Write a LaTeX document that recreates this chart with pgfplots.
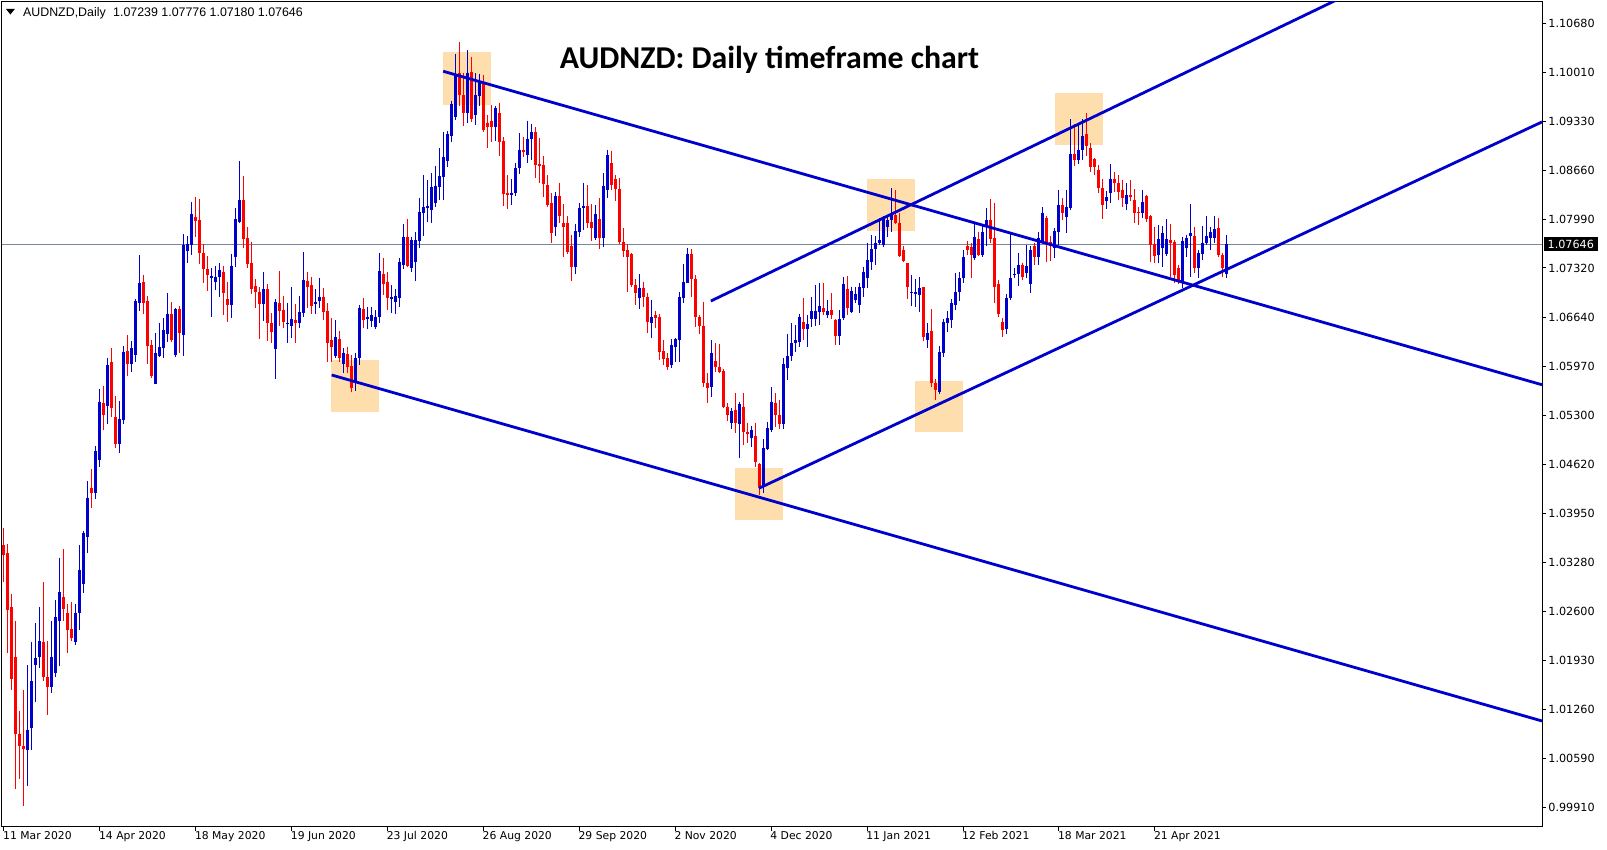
\documentclass[border=0pt]{standalone}
\usepackage{pgfplots}
\pgfplotsset{compat=1.18}
\usepackage{pgfplotstable}
\usepackage{fontspec}
\newfontfamily\dejavu{DejaVu Sans}
\newfontfamily\libsans{Liberation Sans}
\newfontfamily\carlito{Carlito}
\definecolor{upc}{RGB}{0,0,204}
\definecolor{dnc}{RGB}{255,0,0}
\definecolor{linec}{RGB}{0,0,204}
\definecolor{boxc}{RGB}{255,222,173}
\definecolor{pricec}{RGB}{119,136,153}

\pgfplotstableread{
i o h l c
6 1.00696 1.01864 1.00202 1.00980
7 1.01005 1.02188 1.00696 1.01644
8 1.01864 1.02438 1.01355 1.01968
9 1.01978 1.02667 1.01829 1.02198
12 1.01564 1.02477 1.01479 1.01978
13 1.01754 1.02767 1.01704 1.02527
14 1.02477 1.03341 1.01854 1.02867
18 1.02178 1.02712 1.02138 1.02587
19 1.02587 1.03510 1.02352 1.03176
20 1.02986 1.03710 1.02852 1.03685
21 1.03625 1.04388 1.03410 1.04164
23 1.04234 1.04872 1.04149 1.04812
24 1.04683 1.05661 1.04588 1.05481
26 1.05431 1.06085 1.05172 1.05990
29 1.04898 1.05496 1.04773 1.05247
30 1.05227 1.06255 1.05172 1.06165
32 1.05995 1.06320 1.05895 1.06220
33 1.06130 1.06893 1.06035 1.06868
34 1.06843 1.07497 1.06729 1.07108
38 1.05731 1.06429 1.05721 1.06155
39 1.06110 1.06569 1.06095 1.06230
40 1.06220 1.06639 1.06085 1.06469
41 1.06419 1.06978 1.06309 1.06689
43 1.06125 1.06766 1.06100 1.06752
45 1.06400 1.07786 1.06111 1.07635
46 1.07553 1.07759 1.07393 1.07649
47 1.07635 1.08230 1.07498 1.08061
52 1.07187 1.07324 1.06651 1.07209
53 1.07132 1.07347 1.07017 1.07200
54 1.07191 1.07384 1.06916 1.07292
57 1.06816 1.07512 1.06633 1.07347
58 1.07466 1.08143 1.07338 1.07992
59 1.07956 1.08789 1.07933 1.08253
65 1.06825 1.07264 1.06596 1.07031
68 1.06207 1.06889 1.05800 1.06848
71 1.06551 1.06843 1.06294 1.06569
72 1.06528 1.07063 1.06363 1.06615
74 1.06569 1.06939 1.06500 1.06720
75 1.06706 1.07544 1.06642 1.07155
78 1.06825 1.07031 1.06688 1.06857
79 1.06871 1.07178 1.06766 1.06926
83 1.06112 1.06606 1.06080 1.06368
85 1.06002 1.06217 1.05874 1.06157
88 1.05759 1.06157 1.05636 1.06089
89 1.06089 1.06812 1.05988 1.06766
91 1.06615 1.06780 1.06478 1.06652
92 1.06597 1.06789 1.06515 1.06675
93 1.06515 1.06743 1.06478 1.06652
94 1.06652 1.07531 1.06560 1.07283
97 1.06894 1.07087 1.06707 1.06926
98 1.06858 1.07027 1.06689 1.06940
99 1.06913 1.07453 1.06789 1.07407
100 1.07361 1.07924 1.07302 1.07750
102 1.07325 1.07750 1.07260 1.07704
103 1.07407 1.07819 1.07146 1.07704
104 1.07695 1.08277 1.07590 1.08094
105 1.08080 1.08597 1.07759 1.08162
106 1.08148 1.08528 1.07956 1.08176
107 1.08116 1.08620 1.07943 1.08437
108 1.08217 1.08721 1.08162 1.08451
109 1.08428 1.08963 1.08254 1.08583
110 1.08574 1.09192 1.08254 1.08849
111 1.08794 1.09206 1.08702 1.09160
112 1.09132 1.09618 1.09055 1.09572
113 1.09398 1.10258 1.09352 1.09970
116 1.09453 1.10313 1.09316 1.10002
118 1.09421 1.09993 1.09284 1.09695
119 1.09682 1.09984 1.09544 1.09892
123 1.09261 1.09544 1.09068 1.09512
127 1.08322 1.08542 1.08185 1.08354
128 1.08354 1.08766 1.08308 1.08688
129 1.08688 1.09169 1.08610 1.08940
131 1.08871 1.09343 1.08766 1.09091
132 1.09086 1.09297 1.08803 1.09192
138 1.07878 1.08368 1.07759 1.08308
143 1.07329 1.07924 1.07233 1.07828
144 1.07819 1.08207 1.07750 1.08148
145 1.08148 1.08491 1.07841 1.08171
148 1.07727 1.08185 1.07704 1.08061
150 1.07727 1.08619 1.07603 1.08445
151 1.08390 1.08940 1.08276 1.08871
159 1.06903 1.07237 1.06752 1.07049
162 1.06569 1.06880 1.06354 1.06651
167 1.05988 1.06340 1.05942 1.06262
168 1.06239 1.06354 1.06033 1.06340
169 1.06331 1.06995 1.06033 1.06926
170 1.06903 1.07375 1.06843 1.07132
171 1.07118 1.07590 1.07109 1.07512
177 1.05682 1.06332 1.05544 1.06149
182 1.05187 1.05393 1.05105 1.05361
184 1.05178 1.05485 1.04707 1.05453
187 1.04981 1.05151 1.04867 1.05096
190 1.04341 1.04968 1.04226 1.04844
191 1.04830 1.05210 1.04821 1.05119
192 1.05096 1.05682 1.05073 1.05485
195 1.05178 1.06080 1.05105 1.06002
196 1.05942 1.06414 1.05782 1.06112
197 1.06111 1.06560 1.06047 1.06294
198 1.06285 1.06537 1.06171 1.06331
199 1.06308 1.06688 1.06239 1.06651
201 1.06477 1.06674 1.06239 1.06550
202 1.06615 1.06926 1.06514 1.06734
203 1.06619 1.07086 1.06523 1.06734
204 1.06720 1.07118 1.06537 1.06798
206 1.06674 1.06880 1.06628 1.06729
209 1.06390 1.06743 1.06262 1.06615
210 1.06628 1.07200 1.06606 1.07100
212 1.06720 1.07063 1.06697 1.07008
213 1.06880 1.07063 1.06834 1.06962
214 1.06811 1.07109 1.06697 1.07054
215 1.07040 1.07338 1.06926 1.07269
216 1.07178 1.07667 1.07040 1.07429
217 1.07406 1.07773 1.07292 1.07580
218 1.07576 1.07759 1.07361 1.07667
219 1.07667 1.08001 1.07635 1.07704
220 1.07635 1.08033 1.07612 1.08001
221 1.07878 1.08024 1.07750 1.07978
222 1.07978 1.08413 1.07818 1.08047
227 1.06981 1.07223 1.06798 1.06990
228 1.06962 1.07164 1.06789 1.06994
229 1.06949 1.07191 1.06720 1.07040
231 1.06331 1.06560 1.06216 1.06431
234 1.05621 1.06248 1.05589 1.06171
235 1.06157 1.06614 1.06102 1.06582
236 1.06569 1.06733 1.06445 1.06628
237 1.06605 1.06889 1.06491 1.06834
238 1.06811 1.07246 1.06743 1.06994
239 1.06994 1.07269 1.06871 1.07178
240 1.07178 1.07567 1.07109 1.07466
243 1.07452 1.07924 1.07429 1.07740
245 1.07498 1.07896 1.07466 1.07814
246 1.07887 1.08139 1.07621 1.07978
251 1.06477 1.06962 1.06413 1.06912
252 1.06903 1.07795 1.06880 1.07187
253 1.07219 1.07315 1.07178 1.07237
254 1.07237 1.07530 1.07073 1.07361
256 1.07246 1.07635 1.07178 1.07347
257 1.07100 1.07621 1.06981 1.07567
259 1.07466 1.07818 1.07361 1.07727
260 1.07695 1.08162 1.07658 1.08070
263 1.07589 1.07864 1.07452 1.07832
264 1.07818 1.08390 1.07635 1.08184
266 1.08015 1.08390 1.07805 1.08152
267 1.08139 1.09361 1.08116 1.08885
269 1.08803 1.09283 1.08748 1.08940
270 1.08940 1.09361 1.08803 1.09132
276 1.08244 1.08382 1.08125 1.08290
277 1.08345 1.08748 1.08208 1.08537
281 1.08198 1.08482 1.08116 1.08322
285 1.08070 1.08391 1.08001 1.08230
289 1.07498 1.07910 1.07393 1.07713
290 1.07590 1.07896 1.07329 1.07805
291 1.07512 1.07988 1.07484 1.07713
295 1.07132 1.07750 1.07040 1.07695
296 1.07590 1.07773 1.07466 1.07727
297 1.07759 1.08198 1.07201 1.07796
299 1.07315 1.07567 1.07178 1.07521
300 1.07512 1.07896 1.07429 1.07667
301 1.07658 1.08033 1.07635 1.07759
302 1.07727 1.07887 1.07567 1.07819
303 1.07727 1.08033 1.07658 1.07850
306 1.07239 1.07776 1.07180 1.07646
}\uptab

\pgfplotstableread{
i o h l c
0 1.03515 1.03750 1.03001 1.03385
1 1.03400 1.03535 1.02028 1.02617
2 1.02667 1.02837 1.01519 1.01679
3 1.01978 1.02477 1.00172 1.00915
4 1.00915 1.01240 1.00297 1.00756
5 1.00751 1.01519 0.99932 1.00721
10 1.02188 1.03001 1.01654 1.01699
11 1.01699 1.02198 1.01180 1.01564
15 1.02802 1.03460 1.02467 1.02642
16 1.02587 1.02712 1.02038 1.02352
17 1.02362 1.02737 1.02198 1.02238
22 1.04298 1.04563 1.04024 1.04224
25 1.05466 1.05701 1.05097 1.05307
27 1.06030 1.06220 1.05272 1.05396
28 1.05272 1.05556 1.04848 1.04898
31 1.06180 1.06399 1.05830 1.05995
35 1.07128 1.07228 1.06694 1.06843
36 1.06868 1.06933 1.06005 1.06255
37 1.06260 1.06329 1.05805 1.05835
42 1.06688 1.06848 1.06308 1.06331
44 1.06752 1.06802 1.06148 1.06432
48 1.08015 1.08299 1.07750 1.07969
49 1.07979 1.08262 1.07374 1.07521
50 1.07521 1.07644 1.07118 1.07310
51 1.07301 1.07484 1.07008 1.07223
55 1.07269 1.07347 1.06679 1.06981
56 1.06889 1.07132 1.06583 1.06816
60 1.08253 1.08583 1.07589 1.07722
61 1.07731 1.07878 1.07315 1.07374
62 1.07393 1.07681 1.06962 1.07036
63 1.07072 1.07164 1.06766 1.06994
64 1.06994 1.07054 1.06349 1.06825
66 1.07031 1.07095 1.06317 1.06560
67 1.06569 1.06697 1.06285 1.06445
69 1.06843 1.07278 1.06523 1.06734
70 1.06743 1.06939 1.06491 1.06583
73 1.06606 1.06825 1.06285 1.06569
76 1.07146 1.07269 1.06766 1.07063
77 1.07086 1.07200 1.06688 1.06792
80 1.06926 1.07040 1.06606 1.06720
81 1.06729 1.06834 1.06033 1.06294
82 1.06331 1.06629 1.06034 1.06231
84 1.06340 1.06455 1.06034 1.06080
86 1.06139 1.06240 1.05874 1.05965
87 1.05974 1.06125 1.05622 1.05668
90 1.06752 1.06904 1.06492 1.06606
95 1.07238 1.07453 1.06949 1.07100
96 1.07132 1.07270 1.06743 1.06904
101 1.07741 1.07993 1.07329 1.07347
114 1.09993 1.10423 1.09544 1.09695
115 1.09695 1.10002 1.09270 1.09444
117 1.10016 1.10222 1.09329 1.09361
120 1.09856 1.09970 1.09192 1.09215
121 1.09316 1.09421 1.08963 1.09252
122 1.09343 1.09558 1.09055 1.09252
124 1.09444 1.09590 1.08858 1.09055
125 1.09063 1.09123 1.08171 1.08336
126 1.08354 1.08597 1.08125 1.08322
130 1.08940 1.09114 1.08848 1.08917
133 1.09192 1.09260 1.08551 1.08734
134 1.08743 1.09100 1.08482 1.08720
135 1.08734 1.08857 1.08290 1.08473
136 1.08459 1.08597 1.08153 1.08185
137 1.08207 1.08345 1.07667 1.07805
139 1.08308 1.08491 1.07942 1.08033
140 1.07942 1.08198 1.07475 1.07887
141 1.07933 1.08033 1.07512 1.07544
142 1.07622 1.07773 1.07146 1.07338
146 1.08171 1.08459 1.07864 1.07942
147 1.07947 1.08198 1.07695 1.07864
149 1.07992 1.08276 1.07576 1.07727
152 1.08757 1.08931 1.08390 1.08459
153 1.08537 1.08597 1.08244 1.08400
154 1.08400 1.08551 1.07649 1.07681
155 1.07681 1.07864 1.07475 1.07558
156 1.07567 1.07649 1.06995 1.07475
157 1.07507 1.07521 1.07063 1.07086
158 1.07086 1.07164 1.06811 1.06981
160 1.07049 1.07132 1.06789 1.06917
161 1.06926 1.06981 1.06422 1.06583
163 1.06674 1.06734 1.06491 1.06628
164 1.06651 1.06688 1.06056 1.06171
165 1.06184 1.06331 1.05988 1.06065
166 1.06079 1.06148 1.05919 1.05965
172 1.07512 1.07576 1.06926 1.07164
173 1.07164 1.07223 1.06514 1.06651
174 1.06643 1.06675 1.06414 1.06524
175 1.06524 1.06858 1.05691 1.05746
176 1.05746 1.05874 1.05462 1.05668
178 1.06043 1.06286 1.05897 1.05965
179 1.05965 1.06277 1.05883 1.05897
180 1.05906 1.05929 1.05393 1.05416
181 1.05416 1.05471 1.05224 1.05302
183 1.05370 1.05608 1.05050 1.05187
185 1.05416 1.05608 1.04890 1.05073
186 1.05073 1.05196 1.04913 1.05041
188 1.05013 1.05196 1.04592 1.04661
189 1.04629 1.04638 1.04203 1.04318
193 1.05471 1.05599 1.05142 1.05302
194 1.05302 1.05508 1.05105 1.05178
200 1.06583 1.06903 1.06331 1.06477
205 1.06766 1.07109 1.06674 1.06720
207 1.06743 1.06971 1.06614 1.06674
208 1.06606 1.06615 1.06262 1.06390
211 1.07026 1.07210 1.06674 1.06766
223 1.08047 1.08390 1.07924 1.07942
224 1.07942 1.08070 1.07466 1.07484
225 1.07567 1.07621 1.07406 1.07420
226 1.07383 1.07393 1.06889 1.07054
230 1.07054 1.07063 1.06322 1.06376
232 1.06454 1.06752 1.05690 1.05736
233 1.05736 1.05791 1.05507 1.05644
241 1.07621 1.07695 1.07498 1.07567
242 1.07603 1.07667 1.07178 1.07498
244 1.07713 1.07818 1.07484 1.07498
247 1.07978 1.08262 1.07667 1.07713
248 1.07727 1.08207 1.06843 1.07063
249 1.07100 1.07155 1.06651 1.06688
250 1.06582 1.06628 1.06376 1.06468
255 1.07361 1.07393 1.07155 1.07201
258 1.07621 1.07667 1.07361 1.07466
261 1.08010 1.08033 1.07406 1.07649
262 1.07681 1.07759 1.07420 1.07621
265 1.08184 1.08276 1.07978 1.08070
268 1.08885 1.09297 1.08720 1.08803
271 1.09160 1.09443 1.08857 1.08995
272 1.08963 1.09031 1.08642 1.08711
273 1.08812 1.08825 1.08597 1.08702
274 1.08665 1.08734 1.08354 1.08413
275 1.08413 1.08537 1.07988 1.08185
278 1.08537 1.08642 1.08368 1.08482
279 1.08482 1.08597 1.08253 1.08368
280 1.08391 1.08528 1.08162 1.08276
282 1.08322 1.08528 1.08244 1.08299
283 1.08253 1.08400 1.07933 1.08079
284 1.08093 1.08162 1.07910 1.08070
286 1.08308 1.08322 1.07956 1.07988
287 1.08033 1.08047 1.07406 1.07635
288 1.07649 1.07887 1.07384 1.07484
292 1.07704 1.07924 1.07201 1.07667
293 1.07681 1.07704 1.07109 1.07223
294 1.07315 1.07361 1.07100 1.07132
298 1.07759 1.07878 1.07246 1.07315
304 1.07864 1.08001 1.07475 1.07498
305 1.07498 1.07530 1.07201 1.07315
}\dntab

\begin{document}
\begin{tikzpicture}
\useasboundingbox (0,0) rectangle (803.5pt,425pt);
\begin{axis}[
  at={(1pt,11.7pt)}, anchor=south west,
  scale only axis, width=770pt, height=412.3pt,
  xmin=-0.5, xmax=384.9, ymin=0.99649, ymax=1.10972,
  axis line style={black, line width=0.5pt},
  clip mode=individual,
  xtick={0,24,...,288},
  xticklabels={11 Mar 2020,14 Apr 2020,18 May 2020,19 Jun 2020,23 Jul 2020,26 Aug 2020,29 Sep 2020,2 Nov 2020,4 Dec 2020,11 Jan 2021,12 Feb 2021,18 Mar 2021,21 Apr 2021},
  ytick={1.1068,1.1001,1.0933,1.0866,1.0799,1.0732,1.0664,1.0597,1.0530,1.0462,1.0395,1.0328,1.0260,1.0193,1.0126,1.0059,0.9991},
  yticklabels={1.10680,1.10010,1.09330,1.08660,1.07990,1.07320,1.06640,1.05970,1.05300,1.04620,1.03950,1.03280,1.02600,1.01930,1.01260,1.00590,0.99910},
  xtick pos=lower, xticklabel pos=lower,
  ytick pos=upper, yticklabel pos=upper,
  tick align=outside, major tick length=2pt,
  tick style={black, line width=0.5pt},
  xticklabel style={font=\dejavu\fontsize{5.4}{6}\selectfont, anchor=north west, inner sep=0pt, xshift=-0.6pt, yshift=-0.3pt},
  yticklabel style={font=\dejavu\fontsize{5.6}{6}\selectfont, anchor=west, inner sep=0pt, xshift=1pt},
]
% highlight boxes
\addplot[forget plot, draw=none, fill=boxc] coordinates {(109.9,1.09562) (121.9,1.09562) (121.9,1.10286) (109.9,1.10286)} -- cycle;
\addplot[forget plot, draw=none, fill=boxc] coordinates {(81.8,1.05347) (93.8,1.05347) (93.8,1.06056) (81.8,1.06056)} -- cycle;
\addplot[forget plot, draw=none, fill=boxc] coordinates {(182.9,1.03865) (194.9,1.03865) (194.9,1.04577) (182.9,1.04577)} -- cycle;
\addplot[forget plot, draw=none, fill=boxc] coordinates {(216.0,1.07828) (228.0,1.07828) (228.0,1.08542) (216.0,1.08542)} -- cycle;
\addplot[forget plot, draw=none, fill=boxc] coordinates {(228.0,1.05061) (240.1,1.05061) (240.1,1.05764) (228.0,1.05764)} -- cycle;
\addplot[forget plot, draw=none, fill=boxc] coordinates {(263.0,1.09009) (275.0,1.09009) (275.0,1.09723) (263.0,1.09723)} -- cycle;
% current price line
\addplot[forget plot, pricec, line width=0.5pt] coordinates {(-0.5,1.07646) (384.9,1.07646)};
% wicks
\addplot[forget plot, draw=none, mark=none, error bars/.cd, y dir=minus, y explicit, error mark=none,
  error bar style={draw=upc, line width=0.5pt}]
  table[x=i, y=h, y error minus expr=\thisrow{h}-\thisrow{l}] {\uptab};
\addplot[forget plot, draw=none, mark=none, error bars/.cd, y dir=minus, y explicit, error mark=none,
  error bar style={draw=dnc, line width=0.5pt}]
  table[x=i, y=h, y error minus expr=\thisrow{h}-\thisrow{l}] {\dntab};
% bodies
\addplot[forget plot, draw=none, mark=none, error bars/.cd, y dir=minus, y explicit, error mark=none,
  error bar style={draw=upc, line width=1.5pt}]
  table[x=i, y=c, y error minus expr=\thisrow{c}-\thisrow{o}] {\uptab};
\addplot[forget plot, draw=none, mark=none, error bars/.cd, y dir=minus, y explicit, error mark=none,
  error bar style={draw=dnc, line width=1.5pt}]
  table[x=i, y=o, y error minus expr=\thisrow{o}-\thisrow{c}] {\dntab};
% trend lines
\addplot[forget plot, linec, line width=1.4pt] coordinates {(109.9,1.10021) (384.9,1.05716)};
\addplot[forget plot, linec, line width=1.4pt] coordinates {(82.0,1.0585) (384.9,1.01099)};
\addplot[forget plot, linec, line width=1.4pt] coordinates {(188.9,1.04294) (384.9,1.09325)};
\addplot[forget plot, linec, line width=1.4pt] coordinates {(176.9,1.06866) (340,1.11172)};
% texts
\fill[black] (axis cs:0.5,1.10876) -- (axis cs:2.7,1.10876) -- (axis cs:1.6,1.10800) -- cycle;
\node[anchor=base west, inner sep=0pt, font=\libsans\fontsize{6.2}{7}\selectfont] at (axis cs:4.68,1.10771) {AUDNZD,Daily\hspace{0.6em}1.07239 1.07776 1.07180 1.07646};
\node[anchor=base, inner sep=0pt, font=\carlito\bfseries\fontsize{15.9}{18}\selectfont] at (axis cs:191.6,1.10062) {AUDNZD: Daily timeframe chart};
\node[anchor=west, fill=black, text=white, inner sep=0pt, minimum height=7pt, minimum width=27.2pt, font=\dejavu\fontsize{5.6}{6}\selectfont] at (axis cs:385.2,1.07646) {1.07646};
\end{axis}
\end{tikzpicture}
\end{document}
